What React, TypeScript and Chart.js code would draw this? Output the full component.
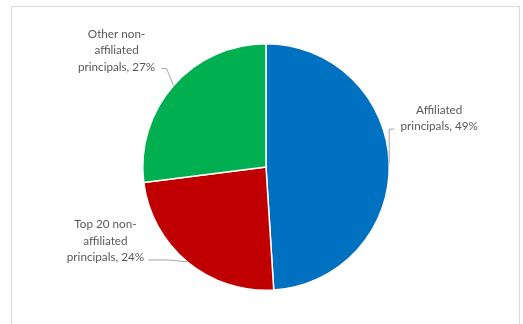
import React, { useEffect, useRef } from "react";
import { Chart, registerables } from "chart.js";

Chart.register(...registerables);

const categories = ["Affiliated principals", "Top 20 non-affiliated principals", "Other non-affiliated principals"];
const values = [49, 24, 27];
const labelLines = [
  ["Affiliated", "principals, 49%"],
  ["Top 20 non-", "affiliated", "principals, 24%"],
  ["Other non-", "affiliated", "principals, 27%"],
];
const colors = ["#0070C0", "#C00000", "#00B050"];

// label layout (style): text block center offset from arc edge midpoint, and leader elbow
const labelStyle = [
  { dx: 50, dy: -45, elbow: [0, -34], tip: [5, -34] },
  { dx: -82, dy: -21, elbow: [-19, -2], tip: [-39, -2] },
  { dx: -57, dy: -35, elbow: [-7, -17], tip: [-12, -17] },
];

const labelPlugin = {
  id: "excelLabels",
  beforeDraw(chart: any) {
    const ctx = chart.ctx;
    ctx.save();
    ctx.strokeStyle = "#D9D9D9";
    ctx.lineWidth = 1;
    ctx.strokeRect(11.5, 6.5, 508, 330);
    ctx.restore();
  },
  afterDraw(chart: any) {
    const ctx = chart.ctx;
    const meta = chart.getDatasetMeta(0);
    ctx.save();
    meta.data.forEach((arc: any, i: number) => {
      const mid = (arc.startAngle + arc.endAngle) / 2;
      const ex = arc.x + Math.cos(mid) * arc.outerRadius;
      const ey = arc.y + Math.sin(mid) * arc.outerRadius;
      const st = labelStyle[i];
      ctx.strokeStyle = "#A6A6A6";
      ctx.lineWidth = 1;
      ctx.beginPath();
      ctx.moveTo(ex, ey);
      ctx.lineTo(ex + st.elbow[0], ey + st.elbow[1]);
      ctx.lineTo(ex + st.tip[0], ey + st.tip[1]);
      ctx.stroke();
      const lines = labelLines[i];
      const lh = 16.5;
      const cx = ex + st.dx;
      const cy = ey + st.dy;
      ctx.fillStyle = "#595959";
      ctx.font = "11.7px Lato, 'Liberation Sans', Arial, sans-serif";
      ctx.textAlign = "center";
      ctx.textBaseline = "middle";
      lines.forEach((t, j) => {
        ctx.fillText(t, cx, cy + (j - (lines.length - 1) / 2) * lh);
      });
    });
    ctx.restore();
  },
};

export default function App() {
  const ref = useRef<HTMLCanvasElement>(null);
  useEffect(() => {
    document.body.style.margin = "0";
    const chart = new Chart(ref.current!, {
      type: "pie",
      data: {
        labels: categories,
        datasets: [
          {
            data: values,
            backgroundColor: colors,
            borderColor: "#FFFFFF",
            borderWidth: 1.5,
          },
        ],
      },
      options: {
        responsive: false,
        animation: false,
        layout: { padding: { left: 142, right: 133, top: 43, bottom: 33 } },
        plugins: { legend: { display: false }, tooltip: { enabled: false } },
      },
      plugins: [labelPlugin],
    });
    return () => chart.destroy();
  }, []);
  return (
    <div style={{ position: "absolute", left: 0, top: 0, width: 523, height: 324, background: "#fff" }}>
      <canvas ref={ref} width={523} height={324} />
    </div>
  );
}
